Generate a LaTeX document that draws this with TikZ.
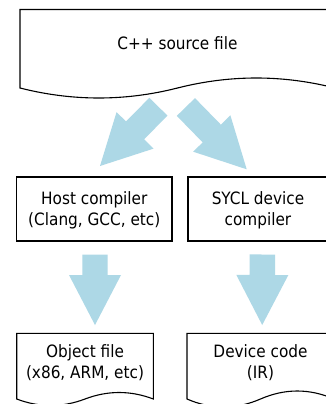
\documentclass[tikz,border=0pt]{standalone}
\usepackage{fontspec}
\setmainfont{DejaVu Sans Condensed}
\usetikzlibrary{calc}
\definecolor{arrowblue}{HTML}{ADD8E6}
\tikzset{
  lbl/.style={font=\fontsize{17}{21}\selectfont, align=center, inner sep=0pt},
  boxnode/.style={draw=black, line width=1.1pt, fill=white, inner sep=0pt},
  docline/.style={draw=black, line width=1.1pt, fill=white},
  fatfill/.style={fill=arrowblue, draw=none}
}
% #1 left x, #2 right x, #3 top y, #4 end y, #5 amplitude
\newcommand\docshape[5]{%
  \draw[docline] (#1,#3) -- (#2,#3) -- (#2,#4)
    .. controls ({#2-(#2-#1)/6},{#4-4*#5/3}) and ({(#1+#2)/2+(#2-#1)/6},{#4-4*#5/3}) .. ({(#1+#2)/2},#4)
    .. controls ({(#1+#2)/2-(#2-#1)/6},{#4+4*#5/3}) and ({#1+(#2-#1)/6},{#4+4*#5/3}) .. (#1,#4) -- cycle;}
% #1 tail, #2 tip, #3 name
\newcommand\fatarrow[3]{%
  \coordinate (#3h) at ($(#2)!50pt!(#1)$);
  \path[fatfill] ($(#1)!12.7pt!90:(#2)$) -- ($(#3h)!12.7pt!90:(#2)$) -- ($(#3h)!26pt!90:(#2)$) -- (#2)
    -- ($(#3h)!26pt!-90:(#2)$) -- ($(#3h)!12.7pt!-90:(#2)$) -- ($(#1)!12.7pt!-90:(#2)$) -- cycle;}
\begin{document}
\begin{tikzpicture}[x=1pt,y=-1pt]
\useasboundingbox (0,0) rectangle (326,404);
\clip (0,0) rectangle (326,404);
\fill[white] (0,0) rectangle (326,404);
% connectors
\coordinate (t1) at (158.4,106.7); \coordinate (p1) at (100,166);
\coordinate (t2) at (185.9,107);   \coordinate (p2) at (246.7,169.3);
\coordinate (t3) at (95,254.5);    \coordinate (p3) at (95,325);
\coordinate (t4) at (262.4,254.5); \coordinate (p4) at (262.2,325);
\fatarrow{t1}{p1}{a1}
\fatarrow{t2}{p2}{a2}
\fatarrow{t3}{p3}{a3}
\fatarrow{t4}{p4}{a4}
% shapes
\docshape{20}{335}{9.5}{88}{10}
\node[lbl] (src) at (177.5,43) {C++ source file};
\node[boxnode, minimum width=155.3pt, minimum height=64pt] (host) at (94.3,209) {};
\node[lbl] (hostt) at (94.3,210) {Host compiler\\(Clang, GCC, etc)};
\node[boxnode, minimum width=140pt, minimum height=64pt] (sycl) at (258,209) {};
\node[lbl] (syclt) at (258,210) {SYCL device\\compiler};
\docshape{16.7}{153.3}{333.3}{399}{6.5}
\node[lbl] (obj) at (85,363) {Object file\\(x86, ARM, etc)};
\docshape{187}{334}{333.3}{399}{8}
\node[lbl] (dev) at (260.5,363) {Device code\\(IR)};
\end{tikzpicture}
\end{document}
